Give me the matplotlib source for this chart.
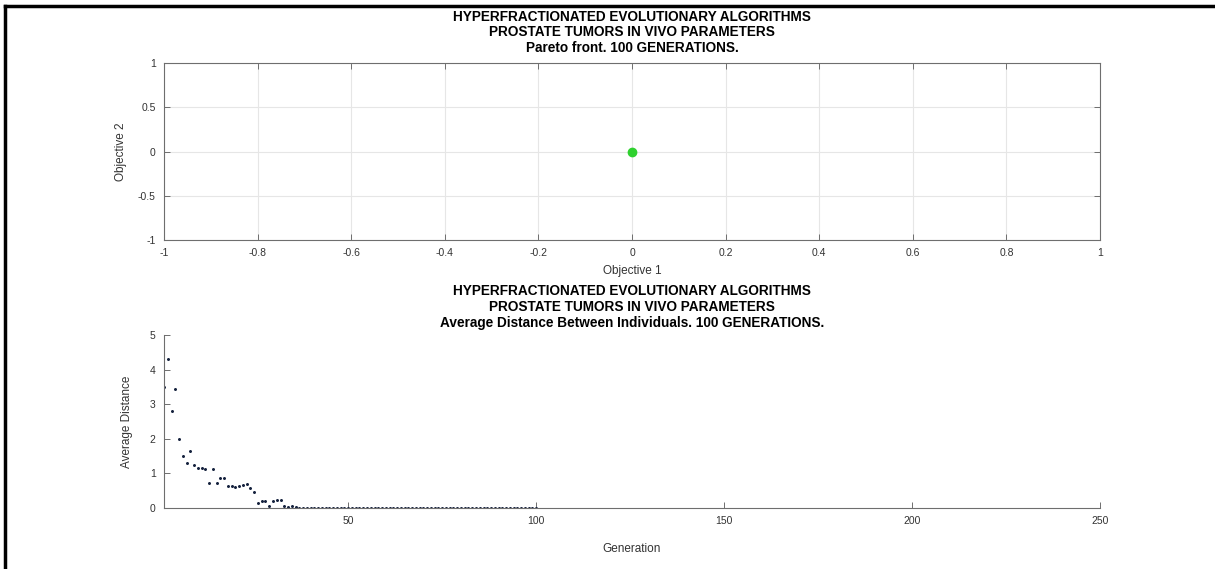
import matplotlib
matplotlib.use("Agg")
import matplotlib.pyplot as plt
from matplotlib.lines import Line2D

# titles
title_top = ["HYPERFRACTIONATED EVOLUTIONARY ALGORITHMS",
             "PROSTATE TUMORS IN VIVO PARAMETERS",
             "Pareto front. 100 GENERATIONS."]
title_bot = ["HYPERFRACTIONATED EVOLUTIONARY ALGORITHMS",
             "PROSTATE TUMORS IN VIVO PARAMETERS",
             "Average Distance Between Individuals. 100 GENERATIONS."]

# pareto front (single point)
obj1 = [0.0]
obj2 = [0.0]

# average distance per generation
dist_head = [3.5, 4.3, 2.8, 3.45, 2.0, 1.5, 1.3, 1.65, 1.25, 1.15,
             1.15, 1.13, 0.72, 1.12, 0.72, 0.87, 0.87, 0.65, 0.63, 0.6,
             0.63, 0.66, 0.7, 0.58, 0.45, 0.15, 0.2, 0.2, 0.05, 0.2,
             0.22, 0.22, 0.06, 0.03, 0.06, 0.02]
avg_dist = dist_head + [0.0] * (100 - len(dist_head))
generations = list(range(1, 101))

x_ticks_top = [-1, -0.8, -0.6, -0.4, -0.2, 0, 0.2, 0.4, 0.6, 0.8, 1]
y_ticks_top = [-1, -0.5, 0, 0.5, 1]
x_ticks_bot = [50, 100, 150, 200, 250]
y_ticks_bot = [0, 1, 2, 3, 4, 5]

W, H = 1215, 569
fig = plt.figure(figsize=(W / 100, H / 100), dpi=100)
plt.rcParams['font.family'] = ['Liberation Sans', 'DejaVu Sans']

axc = '#6e6e6e'
tfs = 7.5
title_fs = 9.8


def style(ax):
    for s in ax.spines.values():
        s.set_color(axc)
        s.set_linewidth(0.8)
    ax.tick_params(direction='in', length=4, width=0.7, colors=axc,
                   labelcolor='#333333', labelsize=tfs, pad=6)


# top: pareto front
ax1 = fig.add_axes([164 / W, 1 - 240 / H, (1100 - 164) / W, (240 - 63) / H])
ax1.plot(obj1, obj2, 'o', color='#2fd12f', markersize=6, zorder=3)
ax1.set_xlim(-1, 1)
ax1.set_ylim(-1, 1)
ax1.set_xticks(x_ticks_top)
ax1.set_xticklabels(['-1', '-0.8', '-0.6', '-0.4', '-0.2', '0', '0.2', '0.4', '0.6', '0.8', '1'])
ax1.set_yticks(y_ticks_top)
ax1.set_yticklabels(['-1', '-0.5', '0', '0.5', '1'])
ax1.grid(True, color='#e6e6e6', linewidth=0.8)
ax1.set_axisbelow(True)
ax1.tick_params(top=True, right=True)
style(ax1)
ax1.set_xlabel('Objective 1', fontsize=8.5, color='#333333', labelpad=5)
ax1.set_ylabel('Objective 2', fontsize=8.5, color='#333333', labelpad=8)
ax1.set_title('\n'.join(title_top), fontsize=title_fs, fontweight='bold',
              linespacing=1.15, pad=8)

# bottom: average distance
ax2 = fig.add_axes([164 / W, 1 - 508 / H, (1100 - 164) / W, (508 - 335) / H])
ax2.plot(generations, avg_dist, '.', color='#14213d', markersize=2.3)
ax2.set_xlim(1, 250)
ax2.set_ylim(0, 5)
ax2.set_xticks(x_ticks_bot)
ax2.set_yticks(y_ticks_bot)
ax2.spines['top'].set_visible(False)
ax2.spines['right'].set_visible(False)
style(ax2)
ax2.set_xlabel('Generation', fontsize=8.5, color='#333333', labelpad=12)
ax2.set_ylabel('Average Distance', fontsize=8.5, color='#333333', labelpad=12)
ax2.set_title('\n'.join(title_bot), fontsize=title_fs, fontweight='bold',
              linespacing=1.15, pad=6)

# black frame lines at top and left of the picture
fig.add_artist(Line2D([5 / W, 1], [1 - 6 / H, 1 - 6 / H], color='black', linewidth=2.5))
fig.add_artist(Line2D([5 / W, 5 / W], [0, 1 - 6 / H], color='black', linewidth=2.5))

fig.savefig('out.png', dpi=100)
